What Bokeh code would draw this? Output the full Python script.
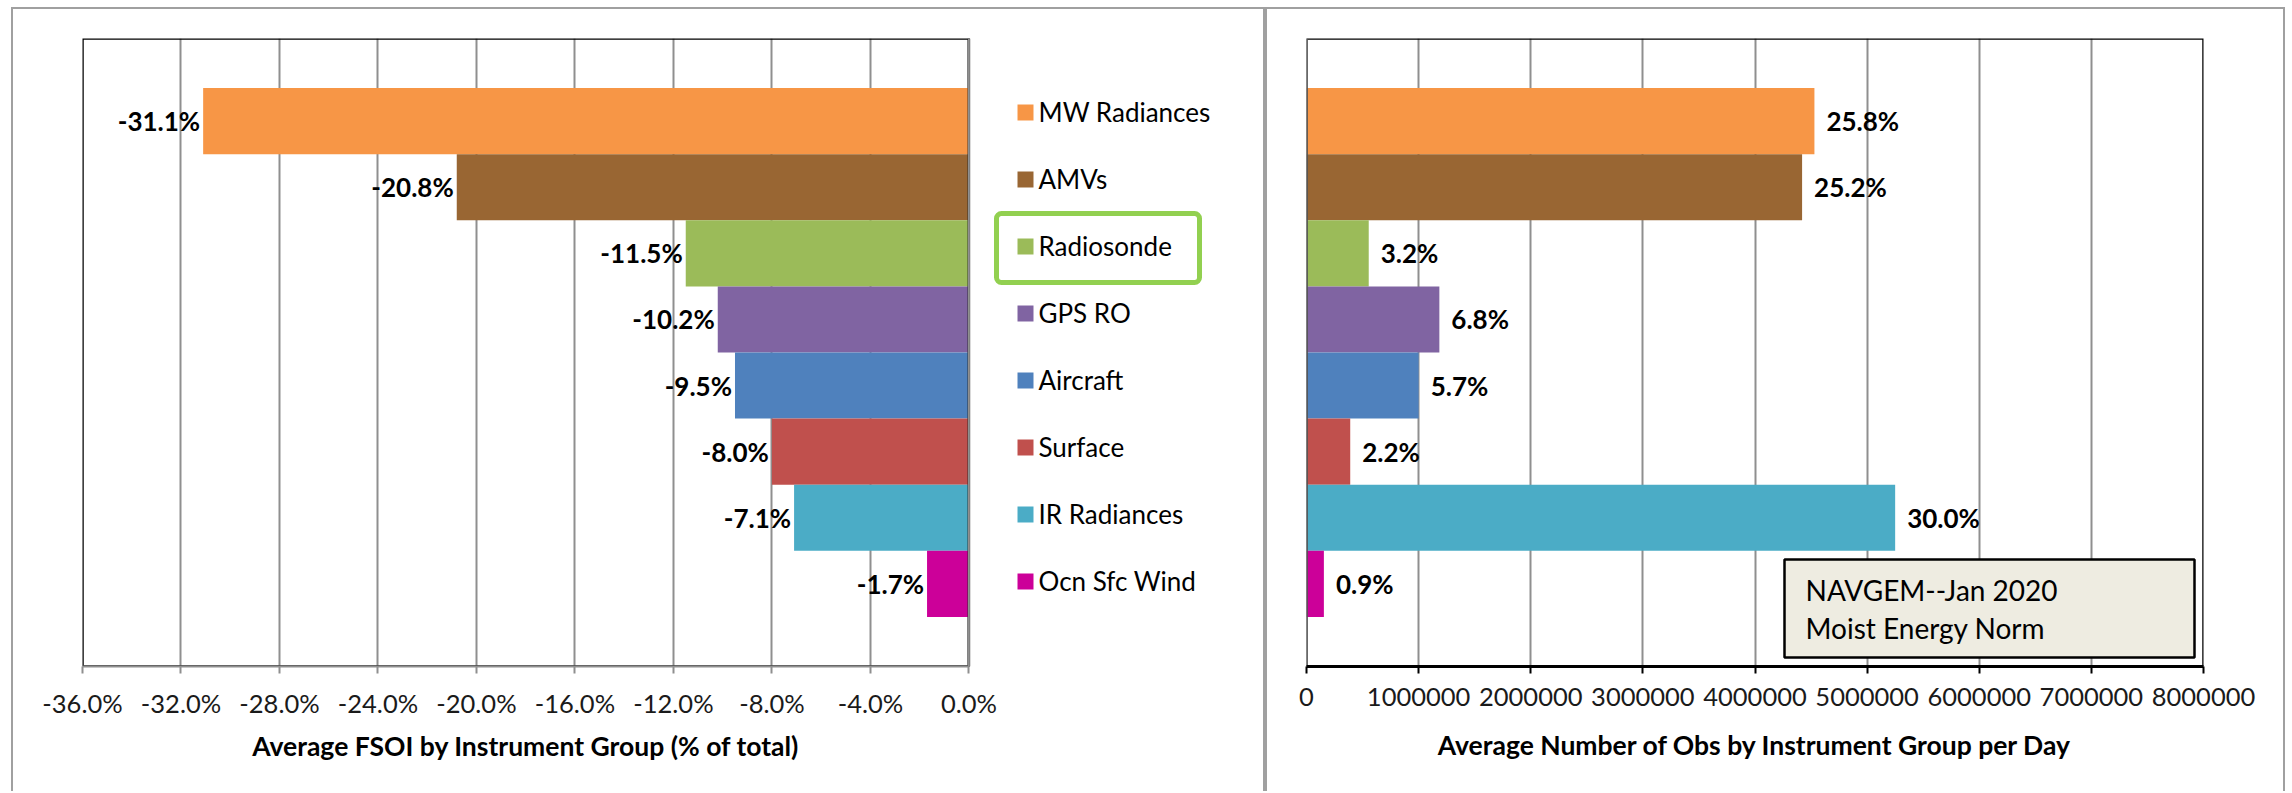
from bokeh.plotting import figure
from bokeh.models import (FactorRange, Range1d, FixedTicker, PrintfTickFormatter,
                          NumeralTickFormatter, Legend, LegendItem, BoxAnnotation,
                          Span, Label, Title, ColumnDataSource)
from bokeh.layouts import row
from bokeh.embed import file_html
from bokeh.resources import INLINE
from bokeh.core.properties import value

# ---------------- data ----------------
categories = ["MW Radiances", "AMVs", "Radiosonde", "GPS RO", "Aircraft",
              "Surface", "IR Radiances", "Ocn Sfc Wind"]
colors = ["#F79646", "#996633", "#9BBB59", "#8064A2", "#4F81BD",
          "#C0504D", "#4BACC6", "#CC0099"]
fsoi_pct = [-31.1, -20.8, -11.5, -10.2, -9.5, -8.0, -7.1, -1.7]
obs_per_day = [4530000, 4420000, 555000, 1185000, 1000000, 390000, 5250000, 155000]
obs_pct = [25.8, 25.2, 3.2, 6.8, 5.7, 2.2, 30.0, 0.9]
fsoi_ticks = [-36, -32, -28, -24, -20, -16, -12, -8, -4, 0]
obs_ticks = [0, 1000000, 2000000, 3000000, 4000000, 5000000, 6000000, 7000000, 8000000]
highlight = "Radiosonde"
note_lines = ["NAVGEM--Jan 2020", "Moist Energy Norm"]
left_title = "Average FSOI by Instrument Group (% of total)"
right_title = "Average Number of Obs by Instrument Group per Day"

# ---------------- layout constants (page pixels) ----------------
FONT = "Lato"
OX, OY = 11, 7                  # outer offset of the left chart object
H = 793 - OY
TOP = 31
BOTTOM = 127
FRAME_TOP = OY + TOP
FRAME_H = H - TOP - BOTTOM
PAD = 0.75                       # category padding (in bar heights)
NCAT = len(categories)
SYN_SPAN = NCAT + 2 * PAD

L_W, L_LEFT = 1265 - OX, 71
L_FRAME_X0 = OX + L_LEFT
L_FRAME_W = L_W - L_LEFT
PX_PER_PCT = 886.4 / 36.0
L_XEND = -36 + L_FRAME_W / PX_PER_PCT

R_X0 = OX + L_W
R_W, R_LEFT, R_RIGHT = 1020, 41, 82
R_FRAME_X0 = R_X0 + R_LEFT
R_FRAME_W = R_W - R_LEFT - R_RIGHT
PX_PER_OBS = R_FRAME_W / 8000000.0

GRID = "#8f8f8f"
BORDER = "#a0a0a0"
TICK_FS = "25.5px"
LBL_FS = "26px"
TITLE_FS = "26.5px"
LEFT_TITLE_W = 547              # rendered width of the left title (px)


def py2syn(py):
    return (NCAT + PAD) - (py - FRAME_TOP) * SYN_SPAN / FRAME_H


def px2pct(px):
    return -36 + (px - L_FRAME_X0) / PX_PER_PCT


def px2obs(px):
    return (px - R_FRAME_X0) / PX_PER_OBS


def base_fig(width, min_left, min_right, x_range, margin):
    p = figure(width=width, height=H, x_range=x_range,
               y_range=FactorRange(factors=list(reversed(categories)),
                                   range_padding=2 * PAD / NCAT,
                                   range_padding_units="percent"),
               y_axis_location=None, toolbar_location=None, output_backend="svg",
               min_border_left=min_left, min_border_right=min_right,
               min_border_top=TOP, min_border_bottom=BOTTOM, margin=margin)
    p.outline_line_color = None
    p.ygrid.grid_line_color = None
    p.background_fill_color = None
    p.border_fill_color = None
    ax = p.xaxis[0]
    ax.major_tick_out = 7
    ax.major_tick_in = 0
    ax.minor_tick_line_color = None
    ax.axis_line_width = 2
    ax.major_tick_line_width = 2
    ax.major_label_text_font = FONT
    ax.major_label_text_font_size = TICK_FS
    ax.major_label_text_color = "#1a1a1a"
    ax.major_label_standoff = 14
    ax.axis_label_text_font = FONT
    ax.axis_label_text_font_size = TITLE_FS
    ax.axis_label_text_font_style = "bold"
    ax.axis_label_text_color = "black"
    ax.axis_label_standoff = 20
    p.xgrid.grid_line_color = GRID
    p.xgrid.grid_line_width = 2
    p.styles = {"outline": f"2px solid {BORDER}", "outline-offset": "-2px",
                "clip-path": "inset(0px 0px 2px 0px)"}
    return p


# ---------------- left chart ----------------
left = base_fig(L_W, L_LEFT, 0, Range1d(-36, L_XEND), (OY, 0, 0, OX))
left.xaxis.ticker = FixedTicker(ticks=fsoi_ticks)
left.xgrid.ticker = FixedTicker(ticks=fsoi_ticks)
left.xaxis.formatter = PrintfTickFormatter(format="%.1f%%")
left.xaxis.bounds = (fsoi_ticks[0], fsoi_ticks[-1])
left.xgrid.bounds = (fsoi_ticks[0], fsoi_ticks[-1])
left.xaxis.axis_line_color = GRID
left.xaxis.major_tick_line_color = GRID

lsrc = ColumnDataSource(dict(cat=categories, val=fsoi_pct, color=colors,
                             label=[f"{v:.1f}%" for v in fsoi_pct]))
lbars = left.hbar(y="cat", left="val", right=0, height=1.0, fill_color="color",
                  line_color=None, source=lsrc)
left.add_layout(BoxAnnotation(left=fsoi_ticks[0], right=fsoi_ticks[-1], fill_color=None,
                              fill_alpha=0, line_color="black", line_alpha=1.0,
                              line_width=2.5, level="glyph"))
left.add_layout(Span(location=0, dimension="height", line_color=GRID, line_width=2,
                     level="glyph"))
left.text(x="val", y="cat", text="label", source=lsrc, text_align="right",
          text_baseline="middle", x_offset=-3, text_font=value(FONT),
          text_font_size=LBL_FS, text_font_style="bold", text_color="black")

# axis title centred under the plotted value range (the frame also holds the legend)
value_center_px = L_FRAME_X0 + (((fsoi_ticks[0] + fsoi_ticks[-1]) / 2) + 36) * PX_PER_PCT
left.add_layout(Title(text=left_title, align="left",
                      offset=value_center_px - LEFT_TITLE_W / 2 - L_FRAME_X0,
                      standoff=14, text_font=FONT, text_font_size=TITLE_FS,
                      text_font_style="bold", text_color="black"), "below")

items = [LegendItem(label=c, renderers=[lbars], index=i) for i, c in enumerate(categories)]
ITEM_H, SPACING = 34, 33
leg_h = NCAT * ITEM_H + (NCAT - 1) * SPACING
leg_top = 111.5 - ITEM_H / 2
legend = Legend(items=items, location=(1014.5 - L_FRAME_X0, FRAME_TOP + FRAME_H - (leg_top + leg_h)),
                orientation="vertical", glyph_width=20, glyph_height=20,
                label_standoff=4, spacing=SPACING, padding=0, margin=0,
                border_line_color=None, background_fill_alpha=0,
                label_text_font=FONT, label_text_font_size="26px",
                label_height=ITEM_H, label_text_color="black")
left.add_layout(legend)

left.add_layout(BoxAnnotation(left=px2pct(996), right=px2pct(1199),
                              top=py2syn(213), bottom=py2syn(282),
                              fill_color=None, fill_alpha=0, line_color="#92D050",
                              line_alpha=1.0, line_width=5, border_radius=5))

# ---------------- right chart ----------------
right = base_fig(R_W, R_LEFT, R_RIGHT, Range1d(obs_ticks[0], obs_ticks[-1]), (OY, 0, 0, 0))
right.xaxis.ticker = FixedTicker(ticks=obs_ticks)
right.xgrid.ticker = FixedTicker(ticks=obs_ticks)
right.xaxis.formatter = NumeralTickFormatter(format="0")
right.xaxis.axis_line_color = "black"
right.xaxis.axis_line_width = 3
right.xaxis.major_tick_line_color = "black"
right.xaxis.axis_label = right_title

rsrc = ColumnDataSource(dict(cat=categories, val=obs_per_day, color=colors,
                             label=[f"{v:.1f}%" for v in obs_pct]))
right.hbar(y="cat", left=0, right="val", height=1.0, fill_color="color",
           line_color=None, source=rsrc)
right.add_layout(BoxAnnotation(left=obs_ticks[0], right=obs_ticks[-1], fill_color=None,
                               fill_alpha=0, line_color="black", line_alpha=1.0,
                               line_width=2.5, level="glyph"))
right.add_layout(Span(location=0, dimension="height", line_color=GRID, line_width=2,
                      level="glyph"))
right.text(x="val", y="cat", text="label", source=rsrc, text_align="left",
           text_baseline="middle", x_offset=12, text_font=value(FONT),
           text_font_size=LBL_FS, text_font_style="bold", text_color="black")

right.add_layout(BoxAnnotation(left=px2obs(1784), right=px2obs(2194),
                               top=py2syn(559), bottom=py2syn(657),
                               fill_color="#EEECE1", fill_alpha=1.0,
                               line_color="black", line_alpha=1.0, line_width=2.5))
for line, py in zip(note_lines, [589, 627]):
    right.add_layout(Label(x=px2obs(1805), y=py2syn(py), text=line,
                           text_baseline="middle", text_align="left",
                           text_font=FONT, text_font_size="28px", text_color="black"))

layout = row(left, right)
open("out.html", "w").write(file_html(layout, INLINE))
